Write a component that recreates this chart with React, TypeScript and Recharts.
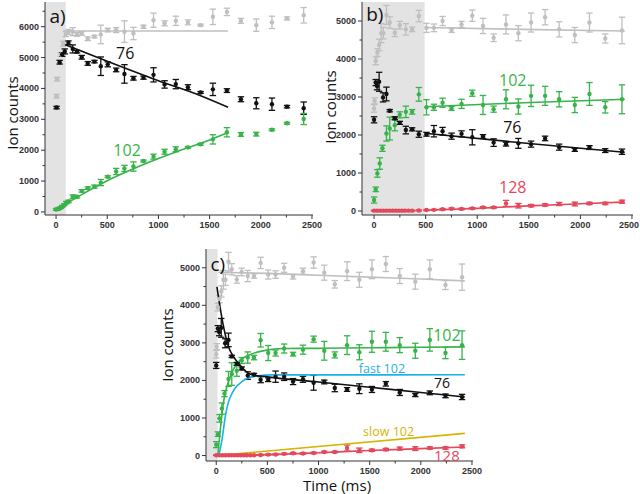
import {
  ComposedChart, Scatter, Line, XAxis, YAxis, ErrorBar, ReferenceArea, ReferenceDot,
} from 'recharts'

const TICK_FONT = '"Liberation Sans", Arial, sans-serif'
const TEXT_FONT = '"Open Sans", "Noto Sans", sans-serif'

const GRAY = '#bfbfbf'
const BLACK = '#111111'
const GREEN = '#37b34a'
const RED = '#e5475c'
const BLUE = '#1cb1e8'
const YELLOW = '#d6b400'

// tick values
const xTicks = [0, 250, 500, 750, 1000, 1250, 1500, 1750, 2000, 2250, 2500]
const yTicksA = [0, 500, 1000, 1500, 2000, 2500, 3000, 3500, 4000, 4500, 5000, 5500, 6000, 6500]
const yTicksBC = [0, 500, 1000, 1500, 2000, 2500, 3000, 3500, 4000, 4500, 5000]

// panel a) measured points
const aGrayT = [5, 10, 45, 70, 95, 121, 163, 205, 251, 310, 375, 437, 505, 587, 668, 756, 854, 952, 1060, 1170, 1288, 1412, 1532, 1669, 1806, 1956, 2109, 2256, 2419]
const aGrayV = [3750, 4300, 5100, 5450, 5760, 5830, 5840, 5750, 5780, 5610, 5680, 5750, 5890, 5890, 5840, 5780, 6000, 6210, 6110, 6190, 6140, 6050, 6320, 6480, 6190, 6050, 6140, 6270, 6370]
const aGrayE = [60, 60, 60, 80, 80, 80, 130, 60, 60, 60, 40, 300, 60, 80, 350, 200, 50, 230, 80, 150, 80, 30, 250, 120, 80, 200, 200, 50, 250]

const aBlackT = [5, 35, 60, 85, 121, 163, 205, 251, 310, 375, 437, 505, 587, 668, 756, 854, 952, 1060, 1170, 1288, 1412, 1532, 1669, 1806, 1956, 2109, 2256, 2419]
const aBlackV = [3380, 4850, 5100, 5200, 5480, 5280, 5190, 5010, 4810, 4870, 4720, 4780, 4600, 4470, 4330, 4350, 4440, 4130, 4140, 4040, 3870, 3970, 3930, 3650, 3520, 3490, 3410, 3360]
const aBlackE = [40, 60, 60, 80, 60, 130, 40, 60, 60, 40, 300, 80, 60, 300, 60, 50, 230, 120, 150, 80, 30, 200, 60, 80, 180, 200, 40, 200]

const aGreenT = [0, 15, 30, 45, 60, 80, 100, 121, 163, 205, 251, 310, 375, 437, 505, 587, 668, 756, 854, 952, 1060, 1170, 1288, 1412, 1532, 1669, 1806, 1956, 2109, 2256, 2419]
const aGreenV = [80, 90, 110, 140, 180, 230, 300, 340, 490, 490, 680, 770, 820, 950, 1140, 1310, 1410, 1470, 1650, 1790, 1950, 2030, 2090, 2190, 2350, 2580, 2510, 2520, 2660, 2870, 3010]
const aGreenE = [30, 30, 30, 30, 30, 30, 40, 40, 60, 40, 40, 40, 50, 100, 30, 100, 100, 150, 30, 80, 80, 80, 30, 30, 150, 150, 60, 60, 30, 30, 180]

// panel a) fits
const aGrayFitT = [72, 1680]
const aGrayFitV = [5860, 5860]
const aBlackFitT = [72, 500, 1000, 1400, 1680]
const aBlackFitV = [5440, 4880, 4250, 3780, 3390]
const aGreenFitT = [0, 250, 500, 750, 1000, 1250, 1500, 1680]
const aGreenFitV = [60, 560, 1010, 1390, 1730, 2040, 2330, 2570]

// panels b) and c) measured points (same data set)
const bGrayT = [0, 5, 16, 32, 50, 70, 90, 120, 152, 201, 249, 308, 369, 434, 508, 580, 664, 751, 848, 952, 1056, 1159, 1279, 1399, 1522, 1658, 1794, 1946, 2088, 2241, 2403]
const bGrayV = [2700, 2900, 3950, 4170, 4370, 4680, 4680, 5160, 4960, 4690, 4890, 4780, 4780, 5130, 4820, 4820, 5000, 4760, 4910, 5140, 4870, 4560, 4910, 4680, 4960, 5100, 4780, 4630, 4960, 4540, 4750]
const bGrayE = [100, 80, 100, 100, 150, 250, 150, 250, 150, 100, 100, 150, 60, 150, 120, 100, 120, 60, 80, 150, 200, 100, 250, 200, 250, 200, 200, 200, 250, 120, 350]

const bGreenT = [0, 16, 32, 55, 81, 120, 152, 201, 249, 308, 369, 434, 508, 580, 664, 751, 848, 952, 1056, 1159, 1279, 1399, 1522, 1658, 1794, 1946, 2088, 2241, 2403]
const bGreenV = [290, 570, 990, 1250, 1650, 2040, 2170, 2260, 2530, 2610, 2610, 3070, 2730, 2730, 2850, 2700, 2820, 3100, 2790, 2680, 2940, 2750, 3030, 3030, 2940, 2790, 3080, 2730, 2940]
const bGreenE = [80, 60, 100, 150, 80, 200, 300, 150, 80, 150, 60, 180, 200, 80, 120, 50, 120, 80, 250, 80, 250, 200, 280, 250, 200, 200, 300, 150, 380]

const bBlackT = [0, 16, 29, 49, 87, 120, 152, 201, 249, 308, 369, 434, 508, 580, 664, 751, 848, 952, 1056, 1159, 1279, 1399, 1522, 1658, 1794, 1946, 2088, 2241, 2403]
const bBlackV = [2400, 3380, 3290, 3400, 2990, 3080, 2640, 2440, 2320, 2130, 2150, 2020, 2020, 2100, 2100, 1970, 2030, 1940, 1960, 1800, 1760, 1780, 1760, 1910, 1680, 1610, 1670, 1590, 1560]
const bBlackE = [80, 80, 100, 250, 120, 180, 30, 40, 40, 100, 40, 80, 50, 150, 100, 80, 80, 200, 50, 100, 50, 130, 80, 60, 80, 40, 50, 50, 70]

const bRedT = [0, 30, 60, 90, 120, 150, 180, 210, 240, 270, 300, 335, 370, 434, 508, 580, 664, 751, 848, 952, 1056, 1159, 1279, 1399, 1522, 1658, 1794, 1946, 2088, 2241, 2403]
const bRedV = [10, 10, 10, 10, 10, 10, 10, 10, 10, 10, 10, 10, 10, 15, 25, 30, 45, 60, 55, 70, 95, 95, 200, 140, 140, 160, 185, 185, 200, 200, 245]
const bRedE = [10, 10, 10, 10, 10, 10, 10, 10, 10, 10, 10, 10, 10, 15, 15, 15, 20, 20, 20, 20, 20, 20, 80, 60, 30, 30, 40, 50, 30, 30, 40]

// panel b) fits
const bFitT = [490, 1450, 2430]
const bGrayFitV = [4830, 4780, 4735]
const bGreenFitV = [2745, 2850, 2940]
const bBlackFitV = [2045, 1790, 1545]
const bRedFitT = [490, 1000, 1500, 2000, 2430]
const bRedFitV = [20, 70, 135, 190, 235]

// panel c) fits
const cGrayFitT = [20, 500, 1000, 1500, 2000, 2430]
const cGrayFitV = [4880, 4850, 4800, 4750, 4700, 4650]
const cBlackFitT = [7, 65, 120, 170, 235, 330, 500, 1000, 1500, 2000, 2430]
const cBlackFitV = [4490, 3520, 2900, 2630, 2400, 2170, 2095, 1960, 1820, 1680, 1560]
const cGreenFitT = [15, 40, 70, 100, 137, 202, 316, 480, 650, 1000, 1500, 2000, 2430]
const cGreenFitV = [0, 700, 1400, 1800, 2100, 2450, 2670, 2800, 2850, 2855, 2870, 2885, 2895]
const cFastFitT = [25, 56, 88, 120, 153, 186, 251, 316, 414, 544, 2430]
const cFastFitV = [0, 410, 1030, 1430, 1650, 1800, 1970, 2070, 2125, 2148, 2150]
const cSlowFitT = [15, 2430]
const cSlowFitV = [0, 590]
const cRedFitT = [0, 500, 1000, 1500, 2000, 2430]
const cRedFitV = [5, 25, 75, 135, 185, 230]

const pts = (t: number[], v: number[], e?: number[]) =>
  t.map((x, i) => ({ x, y: v[i], e: e ? e[i] : 0 }))

type Series = { color: string; t: number[]; v: number[]; e: number[] }
type Fit = { color: string; t: number[]; v: number[] }
type Note = { x: number; y: number; text: string; color: string; size: number }

const XTick = (props: any) => {
  const { x, y, payload, limit } = props
  const major = payload.value % 500 === 0
  // keep the last label inside the svg when it would run past the edge
  const tooFar = limit && x + 11 > limit
  return (
    <g>
      <line x1={x} y1={y} x2={x} y2={y + (major ? 4 : 2.5)} stroke="#333" />
      {major && (
        <text
          x={tooFar ? limit : x} y={y + 13} textAnchor={tooFar ? 'end' : 'middle'}
          fontSize={9} fontWeight="bold" fill="#333" fontFamily={TICK_FONT}
        >
          {payload.value}
        </text>
      )}
    </g>
  )
}

const TopTick = (props: any) => {
  const { x, y } = props
  return <line x1={x} y1={y} x2={x} y2={y - 3} stroke="#333" />
}

const YTick = (props: any) => {
  const { x, y, payload } = props
  const major = payload.value % 1000 === 0
  return (
    <g>
      <line x1={x} y1={y} x2={x - (major ? 4 : 2.5)} y2={y} stroke="#333" />
      {major && (
        <text x={x - 6} y={y + 3} textAnchor="end" fontSize={9} fontWeight="bold" fill="#333" fontFamily={TICK_FONT}>
          {payload.value}
        </text>
      )}
    </g>
  )
}

interface PanelProps {
  left: number
  top: number
  width: number
  height: number
  margin: { top: number; right: number; bottom: number; left: number }
  xDomain: [number, number]
  yDomain: [number, number]
  yTicks: number[]
  shadeTo: number
  series: Series[]
  fits: Fit[]
  notes: Note[]
}

const Panel = ({ left, top, width, height, margin, xDomain, yDomain, yTicks, shadeTo, series, fits, notes }: PanelProps) => (
  <div style={{ position: 'absolute', left, top }}>
    <ComposedChart width={width} height={height} margin={margin}>
      <XAxis
        type="number" dataKey="x" domain={xDomain} ticks={xTicks} allowDataOverflow
        tick={<XTick limit={width - 1} />} tickLine={false} tickSize={0} tickMargin={0} interval={0}
        axisLine={{ stroke: '#333' }} height={20}
      />
      <XAxis
        xAxisId="top" orientation="top" type="number" dataKey="x" domain={xDomain} ticks={xTicks}
        allowDataOverflow tick={<TopTick />} tickLine={false} tickSize={0} tickMargin={0} interval={0}
        axisLine={{ stroke: '#333' }} height={0}
      />
      <YAxis
        type="number" dataKey="y" domain={yDomain} ticks={yTicks} allowDataOverflow
        tick={<YTick />} tickLine={false} tickSize={0} tickMargin={0} interval={0}
        axisLine={{ stroke: '#333' }} width={40}
      />
      <YAxis
        yAxisId="right" orientation="right" type="number" dataKey="y" domain={yDomain}
        allowDataOverflow tick={false} tickLine={false} axisLine={{ stroke: '#333' }} width={0}
      />
      <ReferenceArea x1={xDomain[0]} x2={shadeTo} fill="#e3e3e3" fillOpacity={1} stroke="none" ifOverflow="hidden" />
      {series.map((s, i) => (
        <Scatter
          key={'s' + i}
          data={pts(s.t, s.v, s.e)}
          dataKey="y"
          isAnimationActive={false}
          shape={(p: any) => <circle cx={p.cx} cy={p.cy} r={2.2} fill={s.color} />}
        >
          <ErrorBar dataKey="e" direction="y" width={3.2} stroke={s.color} strokeWidth={1.3} />
        </Scatter>
      ))}
      {fits.map((f, i) => (
        <Line
          key={'f' + i}
          data={pts(f.t, f.v)}
          dataKey="y"
          type="monotone"
          stroke={f.color}
          strokeWidth={1.6}
          dot={false}
          activeDot={false}
          isAnimationActive={false}
        />
      ))}
      {notes.map((n, i) => (
        <ReferenceDot
          key={'n' + i}
          x={n.x}
          y={n.y}
          r={0}
          fill="none"
          stroke="none"
          label={{ value: n.text, position: 'center', fill: n.color, fontSize: n.size, fontFamily: TEXT_FONT }}
        />
      ))}
    </ComposedChart>
  </div>
)

const vTitle = (cx: number, cy: number) => (
  <div
    style={{
      position: 'absolute', left: cx, top: cy, transform: 'translate(-50%, -50%) rotate(-90deg)',
      whiteSpace: 'nowrap', fontFamily: TEXT_FONT, fontSize: 15, lineHeight: 1, color: '#111',
    }}
  >
    Ion counts
  </div>
)

const bSeries: Series[] = [
  { color: GRAY, t: bGrayT, v: bGrayV, e: bGrayE },
  { color: GREEN, t: bGreenT, v: bGreenV, e: bGreenE },
  { color: BLACK, t: bBlackT, v: bBlackV, e: bBlackE },
  { color: RED, t: bRedT, v: bRedV, e: bRedE },
]

export default function App() {
  return (
    <div style={{ position: 'absolute', left: 0, top: 0, width: 640, height: 494, background: '#fff', overflow: 'hidden' }}>
      <Panel
        left={0} top={0} width={332} height={240}
        margin={{ top: 2, right: 19, bottom: 5, left: 5 }}
        xDomain={[-108, 2510]} yDomain={[-100, 6800]} yTicks={yTicksA} shadeTo={95}
        series={[
          { color: GRAY, t: aGrayT, v: aGrayV, e: aGrayE },
          { color: BLACK, t: aBlackT, v: aBlackV, e: aBlackE },
          { color: GREEN, t: aGreenT, v: aGreenV, e: aGreenE },
        ]}
        fits={[
          { color: GRAY, t: aGrayFitT, v: aGrayFitV },
          { color: BLACK, t: aBlackFitT, v: aBlackFitV },
          { color: GREEN, t: aGreenFitT, v: aGreenFitV },
        ]}
        notes={[
          { x: 15, y: 6330, text: 'a)', color: '#111', size: 19 },
          { x: 675, y: 5150, text: '76', color: BLACK, size: 16 },
          { x: 694, y: 2008, text: '102', color: GREEN, size: 16 },
        ]}
      />
      <Panel
        left={320} top={0} width={320} height={240}
        margin={{ top: 2, right: 7, bottom: 5, left: 2 }}
        xDomain={[-117, 2510]} yDomain={[-105, 5500]} yTicks={yTicksBC} shadeTo={490}
        series={bSeries}
        fits={[
          { color: GRAY, t: bFitT, v: bGrayFitV },
          { color: GREEN, t: bFitT, v: bGreenFitV },
          { color: BLACK, t: bFitT, v: bBlackFitV },
          { color: RED, t: bRedFitT, v: bRedFitV },
        ]}
        notes={[
          { x: 7, y: 5184, text: 'b)', color: '#111', size: 19 },
          { x: 1344, y: 3447, text: '102', color: GREEN, size: 16 },
          { x: 1340, y: 2192, text: '76', color: BLACK, size: 16 },
          { x: 1344, y: 632, text: '128', color: RED, size: 16 },
        ]}
      />
      <Panel
        left={160} top={240} width={332} height={254}
        margin={{ top: 9, right: 19, bottom: 13, left: 6 }}
        xDomain={[-100, 2510]} yDomain={[-145, 5500]} yTicks={yTicksBC} shadeTo={13}
        series={bSeries}
        fits={[
          { color: GRAY, t: cGrayFitT, v: cGrayFitV },
          { color: YELLOW, t: cSlowFitT, v: cSlowFitV },
          { color: RED, t: cRedFitT, v: cRedFitV },
          { color: BLUE, t: cFastFitT, v: cFastFitV },
          { color: GREEN, t: cGreenFitT, v: cGreenFitV },
          { color: BLACK, t: cBlackFitT, v: cBlackFitV },
        ]}
        notes={[
          { x: 15, y: 5100, text: 'c)', color: '#111', size: 19 },
          { x: 2255, y: 3206, text: '102', color: GREEN, size: 16 },
          { x: 1620, y: 2319, text: 'fast 102', color: BLUE, size: 12.5 },
          { x: 2207, y: 1919, text: '76', color: BLACK, size: 14 },
          { x: 1685, y: 629, text: 'slow 102', color: YELLOW, size: 12.5 },
          { x: 2255, y: 8, text: '128', color: RED, size: 15 },
        ]}
      />
      {vTitle(12, 113)}
      {vTitle(330, 107)}
      {vTitle(167, 345)}
      <div
        style={{
          position: 'absolute', left: 337, top: 485, transform: 'translate(-50%, -50%)',
          whiteSpace: 'nowrap', fontFamily: TEXT_FONT, fontSize: 15, lineHeight: 1, color: '#111',
        }}
      >
        Time (ms)
      </div>
    </div>
  )
}
